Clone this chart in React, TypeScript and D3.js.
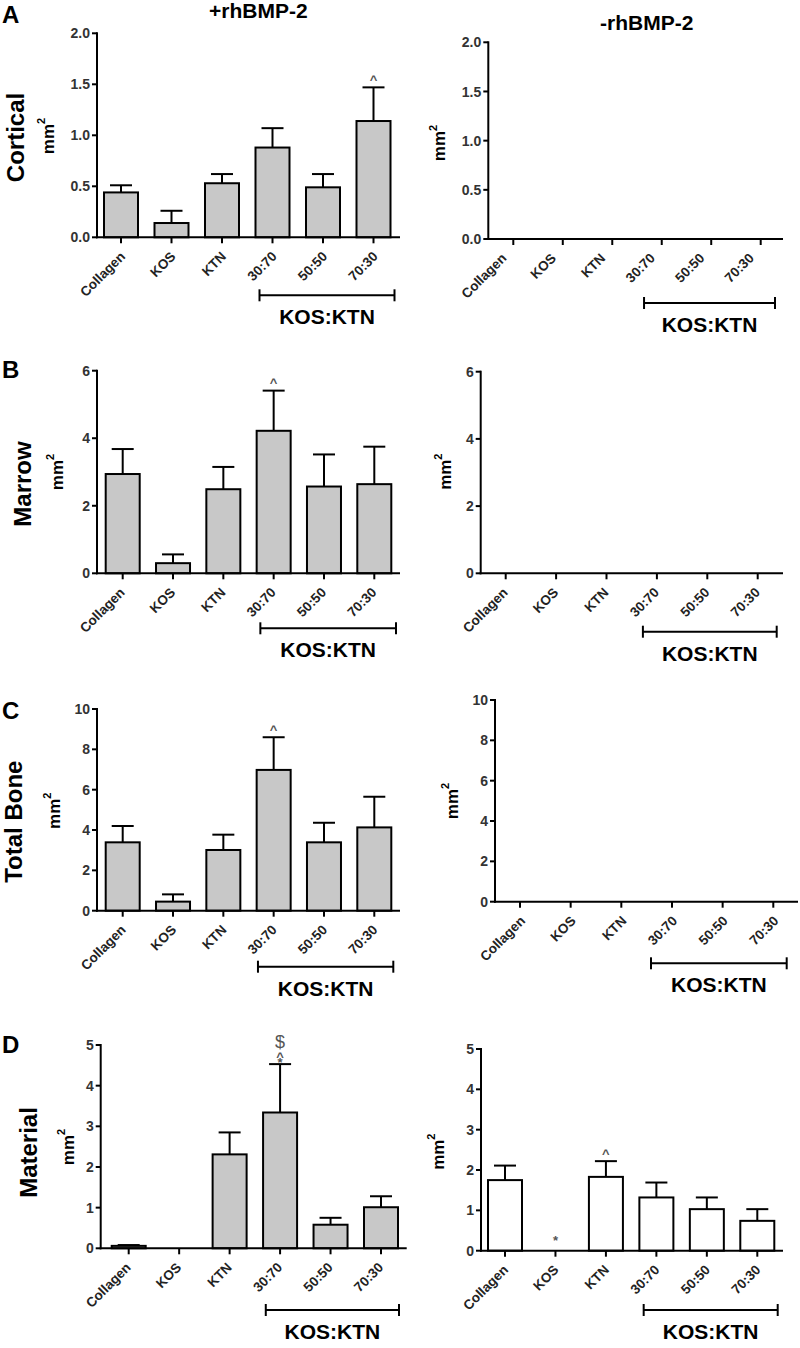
import React from "react";
import * as d3 from "d3";

const categories = ["Collagen", "KOS", "KTN", "30:70", "50:50", "70:30"];

const corticalTicks = [0, 0.5, 1.0, 1.5, 2.0];
const marrowTicks = [0, 2, 4, 6];
const totalTicks = [0, 2, 4, 6, 8, 10];
const materialTicks = [0, 1, 2, 3, 4, 5];

// +rhBMP-2 series (mean, upper SEM)
const corticalPlus = [0.44, 0.14, 0.53, 0.88, 0.49, 1.14];
const corticalPlusErr = [0.07, 0.12, 0.09, 0.19, 0.13, 0.33];
const corticalPlusMarks = ["", "", "", "", "", "^"];

const marrowPlus = [2.94, 0.3, 2.49, 4.22, 2.57, 2.64];
const marrowPlusErr = [0.74, 0.26, 0.66, 1.19, 0.95, 1.11];
const marrowPlusMarks = ["", "", "", "^", "", ""];

const totalPlus = [3.39, 0.45, 3.01, 6.98, 3.39, 4.13];
const totalPlusErr = [0.81, 0.36, 0.76, 1.62, 0.97, 1.52];
const totalPlusMarks = ["", "", "", "^", "", ""];

const materialPlus = [0.06, 0, 2.31, 3.34, 0.58, 1.01];
const materialPlusErr = [0.02, 0, 0.54, 1.19, 0.17, 0.27];
const materialPlusMarks = ["", "", "", "*^$", "", ""];

// -rhBMP-2 series
const materialMinus = [1.75, 0, 1.83, 1.32, 1.03, 0.74];
const materialMinusErr = [0.36, 0, 0.39, 0.37, 0.29, 0.29];
const materialMinusMarks = ["", "*", "^", "", "", ""];

const titles = ["+rhBMP-2", "-rhBMP-2"];
const rowLabels = ["Cortical", "Marrow", "Total Bone", "Material"];
const panelLetters = ["A", "B", "C", "D"];
const groupLabel = "KOS:KTN";
const unitLabel = "mm";

const FONT = "'Liberation Sans', Arial, Helvetica, sans-serif";

type Panel = {
  vals: number[] | null;
  errs: number[] | null;
  marks: string[] | null;
  ticks: number[];
  fmt: string;
  fill: string;
  axisX: number; c0: number; c1: number; xEnd: number; yTop: number; yBot: number;
  labelDx: number; brY: number; brL: number; brR: number; mmX: number; mmY: number;
};

const panels: Panel[] = [
  { vals: corticalPlus, errs: corticalPlusErr, marks: corticalPlusMarks, ticks: corticalTicks, fmt: ".1f", fill: "#c8c8c8",
    axisX: 97, c0: 121, c1: 373.5, xEnd: 400, yTop: 33.3, yBot: 237.3, labelDx: 5, brY: 58, brL: -13, brR: 21, mmX: 48, mmY: 136 },
  { vals: null, errs: null, marks: null, ticks: corticalTicks, fmt: ".1f", fill: "#ffffff",
    axisX: 488.3, c0: 513.3, c1: 760.7, xEnd: 783, yTop: 42.3, yBot: 239, labelDx: -6, brY: 64, brL: -17.7, brR: 14.3, mmX: 439.5, mmY: 143 },
  { vals: marrowPlus, errs: marrowPlusErr, marks: marrowPlusMarks, ticks: marrowTicks, fmt: "d", fill: "#c8c8c8",
    axisX: 97, c0: 122.7, c1: 374.3, xEnd: 400, yTop: 370.7, yBot: 573.3, labelDx: 3, brY: 55, brL: -13.3, brR: 21.7, mmX: 57, mmY: 472 },
  { vals: null, errs: null, marks: null, ticks: marrowTicks, fmt: "d", fill: "#ffffff",
    axisX: 480.7, c0: 505.7, c1: 757.7, xEnd: 783, yTop: 371.7, yBot: 573.3, labelDx: 3, brY: 58.4, brL: -14, brR: 19, mmX: 445, mmY: 471.7 },
  { vals: totalPlus, errs: totalPlusErr, marks: totalPlusMarks, ticks: totalTicks, fmt: "d", fill: "#c8c8c8",
    axisX: 97, c0: 122.7, c1: 374.3, xEnd: 400, yTop: 709, yBot: 910.7, labelDx: 4, brY: 56, brL: -15.7, brR: 19, mmX: 54, mmY: 810.8 },
  { vals: null, errs: null, marks: null, ticks: totalTicks, fmt: "d", fill: "#ffffff",
    axisX: 495, c0: 520, c1: 773.3, xEnd: 798, yTop: 700, yBot: 901.7, labelDx: 6, brY: 61.6, brL: -21, brR: 13.4, mmX: 452, mmY: 801 },
  { vals: materialPlus, errs: materialPlusErr, marks: materialPlusMarks, ticks: materialTicks, fmt: "d", fill: "#c8c8c8",
    axisX: 100.7, c0: 128.7, c1: 381, xEnd: 406.7, yTop: 1045, yBot: 1248.3, labelDx: 3, brY: 61.7, brL: -14.3, brR: 18, mmX: 68, mmY: 1147 },
  { vals: materialMinus, errs: materialMinusErr, marks: materialMinusMarks, ticks: materialTicks, fmt: "d", fill: "#ffffff",
    axisX: 481, c0: 505, c1: 757.3, xEnd: 783, yTop: 1049, yBot: 1250.7, labelDx: 4, brY: 59.3, brL: -12.7, brR: 20.4, mmX: 438, mmY: 1151.7 },
];

const rowLabelPos = [
  { x: 15, y: 137.5, ly: 23 },
  { x: 22.5, y: 484, ly: 378.3 },
  { x: 13, y: 821.7, ly: 719 },
  { x: 28, y: 1152.5, ly: 1053.3 },
];
const titlePos = [
  { x: 258.3, y: 18.3 },
  { x: 646.7, y: 30 },
];

const BAR_W = 34;
const CAP_W = 22;

function Marks({ text, x, yRef }: { text: string; x: number; yRef: number }) {
  const items: { ch: string; size: number; baseline: number }[] = [];
  // glyph-bottom position of the first (lowest) symbol above the reference point
  let bottom = yRef - (text.length > 1 ? 2.3 : text === "^" ? 7.5 : 10.7);
  for (let i = 0; i < text.length; i++) {
    const ch = text[i];
    let size = 13, glyphBottom = 0.33, glyphTop = 0.72;
    if (ch === "*") { size = 13; glyphBottom = 0.42; glyphTop = 0.72; }
    if (ch === "$") { size = 18; glyphBottom = -0.08; glyphTop = 0.8; }
    const baseline = bottom + glyphBottom * size;
    items.push({ ch, size, baseline });
    bottom = baseline - glyphTop * size - 1.7;
  }
  return (
    <g>
      {items.map((s, i) => (
        <text key={i} x={x} y={s.baseline} textAnchor="middle" fontFamily={FONT} fill="#555"
          fontSize={s.size} fontWeight={s.ch === "$" ? 400 : 700}>{s.ch}</text>
      ))}
    </g>
  );
}

function PanelView({ p }: { p: Panel }) {
  const max = p.ticks[p.ticks.length - 1];
  const y = d3.scaleLinear().domain([0, max]).range([p.yBot, p.yTop]);
  const x = d3.scalePoint<string>().domain(categories).range([p.c0, p.c1]);
  const fmt = p.fmt === "d" ? d3.format("d") : d3.format(p.fmt);
  const bx1 = (x("30:70") as number) + p.brL;
  const bx2 = (x("70:30") as number) + p.brR;
  const by = p.yBot + p.brY;
  return (
    <g>
      {p.vals && p.vals.map((v, i) => {
        const cx = x(categories[i]) as number;
        if (v <= 0) return null;
        return (
          <rect key={"b" + i} x={cx - BAR_W / 2} y={y(v)} width={BAR_W} height={p.yBot - y(v)}
            fill={p.fill} stroke="#000" strokeWidth={2} />
        );
      })}
      {p.vals && p.errs && p.vals.map((v, i) => {
        const e = p.errs![i];
        if (!(e > 0)) return null;
        const cx = x(categories[i]) as number;
        return (
          <g key={"e" + i} stroke="#000" strokeWidth={2}>
            <line x1={cx} x2={cx} y1={y(v)} y2={y(v + e)} />
            <line x1={cx - CAP_W / 2} x2={cx + CAP_W / 2} y1={y(v + e)} y2={y(v + e)} />
          </g>
        );
      })}
      {p.vals && p.marks && p.marks.map((m, i) => {
        if (!m) return null;
        const cx = x(categories[i]) as number;
        const top = y(p.vals![i] + (p.errs ? p.errs[i] : 0));
        return <Marks key={"m" + i} text={m} x={cx} yRef={top} />;
      })}
      <line x1={p.axisX} x2={p.axisX} y1={y(max) - 1} y2={p.yBot + 1} stroke="#000" strokeWidth={2} />
      {p.ticks.map((t) => (
        <g key={"t" + t}>
          <line x1={p.axisX - 5} x2={p.axisX} y1={y(t)} y2={y(t)} stroke="#000" strokeWidth={2} />
          <text x={p.axisX - 7} y={y(t)} dy="0.36em" textAnchor="end" fontSize={14}
            fontFamily={FONT} fontWeight={700} fill="#333">{fmt(t)}</text>
        </g>
      ))}
      <line x1={p.axisX - 1} x2={p.xEnd} y1={p.yBot} y2={p.yBot} stroke="#000" strokeWidth={2} />
      {categories.map((c) => {
        const cx = x(c) as number;
        const tx = cx + p.labelDx;
        const ty = p.yBot + 20;
        return (
          <g key={"x" + c}>
            <line x1={cx} x2={cx} y1={p.yBot} y2={p.yBot + 6} stroke="#000" strokeWidth={2} />
            <text transform={`translate(${tx},${ty}) rotate(-45)`} x={0} y={0} textAnchor="end"
              fontSize={13.5} fontFamily={FONT} fontWeight={700} fill="#222">{c}</text>
          </g>
        );
      })}
      <g stroke="#000" strokeWidth={2}>
        <line x1={bx1} x2={bx2} y1={by} y2={by} />
        <line x1={bx1} x2={bx1} y1={by - 6} y2={by + 6} />
        <line x1={bx2} x2={bx2} y1={by - 6} y2={by + 6} />
      </g>
      <text x={(bx1 + bx2) / 2} y={by + 29} textAnchor="middle" fontSize={21} fontFamily={FONT}
        fontWeight={700} fill="#000">{groupLabel}</text>
      <text transform={`translate(${p.mmX},${p.mmY}) rotate(-90)`} textAnchor="middle" dominantBaseline="central"
        fontSize={17} fontFamily={FONT} fontWeight={700} fill="#000">
        {unitLabel}<tspan dy={-7} fontSize={11}>2</tspan>
      </text>
    </g>
  );
}

export default function App() {
  return (
    <svg width={800} height={1348} style={{ position: "absolute", left: 0, top: 0, background: "#fff" }}>
      <rect x={0} y={0} width={800} height={1348} fill="#fff" />
      {titles.map((t, i) => (
        <text key={t} x={titlePos[i].x} y={titlePos[i].y} textAnchor="middle" fontSize={21}
          fontFamily={FONT} fontWeight={700} fill="#000">{t}</text>
      ))}
      {rowLabels.map((l, i) => (
        <g key={l}>
          <text x={2} y={rowLabelPos[i].ly} fontSize={24} fontFamily={FONT} fontWeight={700} fill="#000">
            {panelLetters[i]}
          </text>
          <text transform={`translate(${rowLabelPos[i].x},${rowLabelPos[i].y}) rotate(-90)`} textAnchor="middle"
            dominantBaseline="central" fontSize={24} fontFamily={FONT} fontWeight={700} fill="#000">{l}</text>
        </g>
      ))}
      {panels.map((p, i) => <PanelView key={i} p={p} />)}
    </svg>
  );
}
